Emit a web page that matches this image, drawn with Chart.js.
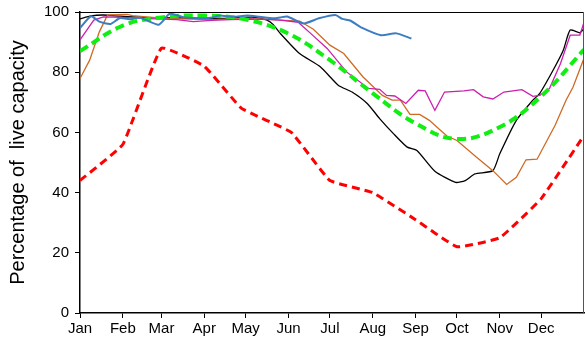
<!DOCTYPE html>
<html>
<head>
<meta charset="utf-8">
<script src="https://cdn.jsdelivr.net/npm/chart.js@4/dist/chart.umd.min.js"></script>
<style>
  html, body { margin: 0; padding: 0; background: #fff; }
  #wrap { width: 585px; height: 342px; }
</style>
</head>
<body>
<div id="wrap"><canvas id="chart" width="585" height="342"></canvas></div>
<script>
// month ticks (day of year) and labels
const monthLabels = ['Jan', 'Feb', 'Mar', 'Apr', 'May', 'Jun', 'Jul', 'Aug', 'Sep', 'Oct', 'Nov', 'Dec'];
const monthStartDays = [0, 31, 59, 90, 120, 151, 181, 212, 243, 273, 304, 334];
const yTicks = [0, 20, 40, 60, 80, 100];

// series as [day of year, % of live capacity]
const blueSeries = [[0,94.7],[8,98.6],[14,96.8],[22,96],[29,98],[37,97.6],[43,98.2],[57,95.8],[65,99.4],[75,98.3],[87,97.9],[96,98.2],[101,98.8],[111,98.4],[121,98.8],[130,98.4],[140,97.9],[145,98.2],[150,98.5],[162,96.2],[173,97.9],[185,99],[190,97.7],[196,97.1],[204,94.8],[218,92.3],[229,92.9],[240,91.2]];
const blackSeries = [[0,97.7],[8,98.7],[17,99],[29,98.6],[45,98.2],[60,98.1],[75,98],[90,97.9],[105,97.9],[115,98.2],[125,98.3],[135,97.4],[140,95.8],[145,92.9],[159,86.2],[174,81.8],[187,75.7],[197,73.4],[208,69.6],[217,64.6],[227,59.6],[237,55.1],[244,54],[257,47.1],[272,43.4],[279,44],[286,46.2],[299,47.3],[304,52.9],[316,64],[328,70.7],[333,73],[343,81],[350,87.3],[355,94],[362,93.1],[365,94.5]];
const orangeSeries = [[0,77.9],[7,84],[14,93.4],[20,99],[34,99.2],[38,98.8],[50,98.3],[65,97.8],[80,97.6],[94,97.5],[110,97.7],[123,97.8],[135,97.6],[145,97.3],[159,97],[169,94.3],[181,89],[191,86.2],[205,78.4],[219,72.3],[226,70.7],[232,70.7],[239,66],[246,66],[253,64],[261,60.7],[266,58.7],[273,57.3],[287,51.8],[299,47.3],[309,42.7],[316,45.1],[323,50.9],[331,51.1],[344,62.3],[352,70.7],[357,75],[365,84.6]];
const magentaSeries = [[0,90.7],[10,97.3],[17,98.4],[30,98.2],[50,97.8],[70,97.5],[82,96.8],[95,97.2],[109,97.5],[125,97.6],[138,97.5],[145,97.3],[158,96.6],[167,92.9],[179,87.9],[193,80.1],[209,74.6],[217,74.3],[222,72.3],[228,72.1],[236,69.6],[245,74],[250,73.8],[257,67.3],[264,73.4],[278,73.8],[285,74.2],[292,71.8],[299,71.1],[307,73.4],[320,74.2],[328,72],[333,72.3],[340,74.6],[348,82.9],[355,92.3],[362,92.3],[365,96.6]];
const greenSeries = [[0,87],[31,95.5],[59,98.2],[90,98.8],[120,97.5],[151,92.8],[181,84],[212,73],[243,63],[273,57.8],[304,61.8],[334,72],[365,87.5]];
const redSeries = [[0,44],[31,56],[59,88],[90,82],[117,68],[153,60],[181,44],[212,40],[243,31],[273,22],[304,25],[334,38],[365,59]];

const toPoints = arr => arr.map(p => ({x: p[0], y: p[1]}));

// top and right frame of the plot area
const frame = {
    id: 'frame',
    afterDraw(chart) {
        const {ctx, chartArea: a} = chart;
        ctx.save();
        ctx.lineWidth = 1;
        ctx.strokeStyle = '#000';
        ctx.beginPath();
        ctx.moveTo(a.left, a.top + 0.5);
        ctx.lineTo(a.right, a.top + 0.5);
        ctx.stroke();
        ctx.strokeStyle = '#555';
        ctx.beginPath();
        ctx.moveTo(a.right - 0.5, a.top);
        ctx.lineTo(a.right - 0.5, a.bottom);
        ctx.stroke();
        ctx.restore();
    }
};

const font = {family: "'Liberation Sans', Arial, sans-serif", size: 15};

new Chart(document.getElementById('chart'), {
    type: 'line',
    data: {
        datasets: [
            {data: toPoints(blueSeries), borderColor: '#3c7dc2', borderWidth: 2, tension: 0.2},
            {data: toPoints(redSeries), borderColor: '#ff0000', borderWidth: 3, borderDash: [8, 5], tension: 0.1},
            {data: toPoints(greenSeries), borderColor: '#11ee11', borderWidth: 4, borderDash: [9, 5], tension: 0.4},
            {data: toPoints(magentaSeries), borderColor: '#cc1fae', borderWidth: 1.3, tension: 0},
            {data: toPoints(orangeSeries), borderColor: '#cf6a25', borderWidth: 1.3, tension: 0},
            {data: toPoints(blackSeries), borderColor: '#000000', borderWidth: 1.3, tension: 0.2}
        ]
    },
    options: {
        responsive: false,
        animation: false,
        elements: {point: {radius: 0}},
        layout: {padding: {top: 12, right: 1, left: 0, bottom: 0}},
        plugins: {legend: {display: false}, tooltip: {enabled: false}},
        scales: {
            x: {
                type: 'linear',
                min: 0,
                max: 365,
                afterBuildTicks: scale => {
                    scale.ticks = monthStartDays.map(v => ({value: v}));
                },
                afterFit: scale => { scale.height = 29; },
                ticks: {
                    autoSkip: false,
                    maxRotation: 0,
                    color: '#000',
                    font: font,
                    padding: 2,
                    callback: (value) => monthLabels[monthStartDays.indexOf(value)]
                },
                grid: {drawOnChartArea: false, tickLength: 5, tickColor: '#000'},
                border: {color: '#000', width: 1.5}
            },
            y: {
                min: 0,
                max: 100,
                afterBuildTicks: scale => {
                    scale.ticks = yTicks.map(v => ({value: v}));
                },
                afterFit: scale => {
                    scale.width = 80;
                    scale.paddingTop = 0;
                    scale.paddingBottom = 0;
                },
                ticks: {color: '#000', font: font, padding: 6},
                grid: {drawOnChartArea: false, tickLength: 5, tickColor: '#000'},
                border: {color: '#000', width: 1.5},
                title: {
                    display: true,
                    text: 'Percentage of  live capacity',
                    color: '#000',
                    font: {family: "'Liberation Sans', Arial, sans-serif", size: 20},
                    padding: {top: 6, bottom: 0}
                }
            }
        }
    },
    plugins: [frame]
});
</script>
</body>
</html>
